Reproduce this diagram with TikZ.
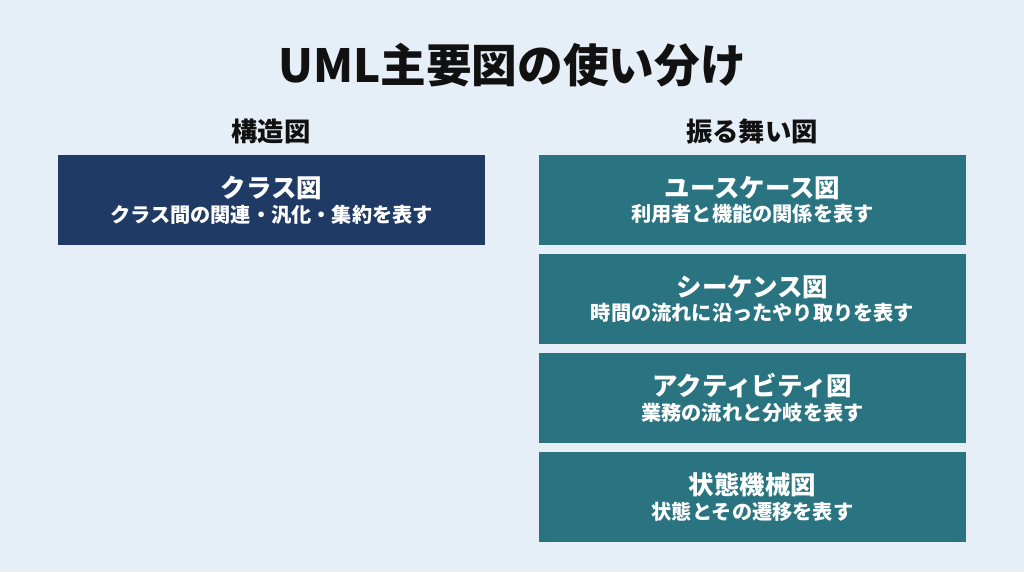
\documentclass[tikz,border=0pt]{standalone}
\usepackage{fontspec}
\setmainfont{Noto Sans CJK JP}
\usetikzlibrary{positioning}
\definecolor{bgc}{HTML}{E6EEF7}
\definecolor{navy}{HTML}{1F3A64}
\definecolor{teal}{HTML}{2A7482}
\definecolor{ink}{HTML}{111111}
\tikzset{
  box/.style={fill=#1, draw=none, minimum width=8.54cm, minimum height=1.8cm,
    text=white, align=center, inner sep=0pt, font=\bfseries},
  head/.style={font=\bfseries\fontsize{15}{18}\selectfont, text=ink}
}
\newcommand{\boxtext}[2]{{\fontsize{14.5}{18}\selectfont #1}\\[2pt]{\fontsize{11.5}{14}\selectfont #2}}
\begin{document}
\begin{tikzpicture}[x=0.02cm,y=-0.02cm]
  \fill[bgc] (0,0) rectangle (1024,572);
  \useasboundingbox (0,0) rectangle (1024,572);
  % title
  \node[font=\bfseries\fontsize{26}{30}\selectfont, text=ink] (title) at (512,65) {UML主要図の使い分け};
  % headings
  \node[head] (struct) at (271,131) {構造図};
  \node[head] (behav) at (752,131) {振る舞い図};
  % structure
  \node[box=navy] (cls) at (271.5,200) {\boxtext{クラス図}{クラス間の関連・汎化・集約を表す}};
  % behaviour
  \node[box=teal] (uc) at (752.5,200) {\boxtext{ユースケース図}{利用者と機能の関係を表す}};
  \node[box=teal] (seq) at (752.5,299) {\boxtext{シーケンス図}{時間の流れに沿ったやり取りを表す}};
  \node[box=teal] (act) at (752.5,398) {\boxtext{アクティビティ図}{業務の流れと分岐を表す}};
  \node[box=teal] (stm) at (752.5,497) {\boxtext{状態機械図}{状態とその遷移を表す}};
\end{tikzpicture}
\end{document}
